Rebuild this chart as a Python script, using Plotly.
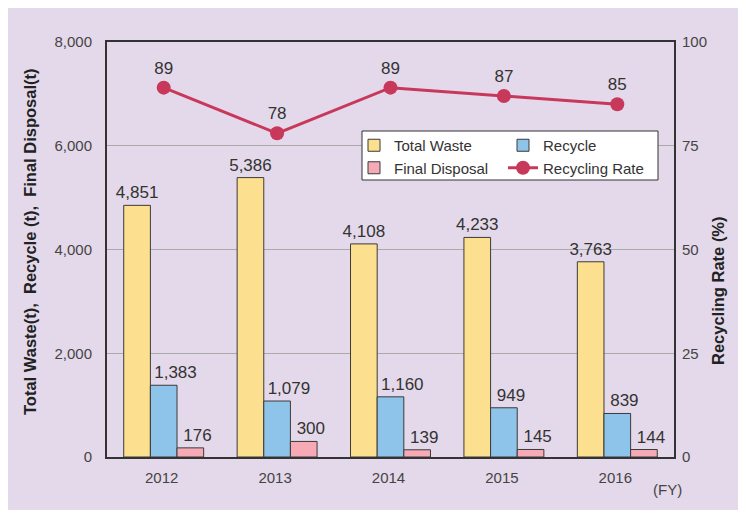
import plotly.graph_objects as go

years = ["2012", "2013", "2014", "2015", "2016"]
total_waste = [4851, 5386, 4108, 4233, 3763]
recycle = [1383, 1079, 1160, 949, 839]
final_disposal = [176, 300, 139, 145, 144]
recycling_rate = [89, 78, 89, 87, 85]

FONT = "Liberation Sans, Arial, sans-serif"
TXT = "#333333"
NB = "\u00a0"

fig = go.Figure()

def labels(vals, left_align):
    out = []
    for v in vals:
        s = f"{v:,}"
        # nudge label so it starts near the bar's left edge (as in the reference)
        out.append(NB * len(s) + s if left_align else s)
    return out

def bar(name, vals, color, legend, left_align):
    return go.Bar(
        x=years, y=vals, name=name, legend=legend,
        marker=dict(color=color, line=dict(color="#3a3a3a", width=1)),
        text=labels(vals, left_align), textposition="outside",
        textfont=dict(size=17, color=TXT, family=FONT),
        constraintext="none", cliponaxis=False,
    )

fig.add_trace(bar("Total Waste", total_waste, "#fde08f", "legend", False))
fig.add_trace(bar("Recycle", recycle, "#8fc4ea", "legend2", True))
fig.add_trace(bar("Final Disposal", final_disposal, "#f5aab5", "legend", True))
fig.add_trace(go.Scatter(
    x=years, y=recycling_rate, name="Recycling Rate", yaxis="y2", legend="legend2",
    mode="lines+markers+text",
    line=dict(color="#c8385a", width=3),
    marker=dict(color="#c8385a", size=14),
    text=[str(v) for v in recycling_rate], textposition="top center",
    textfont=dict(size=17, color=TXT, family=FONT),
    cliponaxis=False,
))

# page body has an 8px margin; work in screen pixels
OFF = 8
W, H = 746 - OFF, 516 - OFF
left, top, right, bottom = 107, 42, 674, 457  # plot frame in screen px
L, T = left - OFF, top - OFF
R, B = W - (right - OFF), H - (bottom - OFF)
pw, ph = right - left, bottom - top

def px(x):
    return (x - left) / pw

def py(y):
    return (bottom - y) / ph

fig.update_layout(
    width=W, height=H,
    margin=dict(l=L, r=R, t=T, b=B, pad=0),
    paper_bgcolor="white", plot_bgcolor="white",
    font=dict(family=FONT, color=TXT),
    barmode="group", bargap=0.295, bargroupgap=0,
    xaxis=dict(
        type="category", showline=True, linecolor="#333", linewidth=2, mirror=True,
        ticks="", tickfont=dict(size=15, color="#444"), ticklabelstandoff=6,
        ticklabelshift=-2,
    ),
    yaxis=dict(
        range=[0, 8000], dtick=2000, tickformat=",", showgrid=True,
        gridcolor="#aaaaaa", gridwidth=1, showline=True, linecolor="#333", linewidth=2,
        zeroline=False, ticks="", tickfont=dict(size=15, color="#444"), ticklabelstandoff=10,
    ),
    yaxis2=dict(
        range=[0, 100], dtick=25, overlaying="y", side="right", showgrid=False,
        showline=True, linecolor="#333", linewidth=2, zeroline=False, ticks="",
        tickfont=dict(size=15, color="#444"), ticklabelstandoff=3,
    ),
    legend=dict(
        x=px(354), y=py(129), xanchor="left", yanchor="top", bgcolor="rgba(0,0,0,0)",
        font=dict(size=15, color=TXT), traceorder="normal", borderwidth=0,
    ),
    legend2=dict(
        x=px(503), y=py(129), xanchor="left", yanchor="top", bgcolor="rgba(0,0,0,0)",
        font=dict(size=15, color=TXT), traceorder="normal", borderwidth=0,
    ),
    shapes=[
        dict(type="rect", xref="paper", yref="paper", x0=px(7), x1=px(740), y0=py(510), y1=py(7),
             fillcolor="#e4d9ea", line=dict(width=0), layer="below"),
        dict(type="rect", xref="paper", yref="paper", x0=px(362), x1=px(658), y0=py(180), y1=py(131),
             fillcolor="white", line=dict(color="#333", width=1), layer="above"),
    ],
    annotations=[
        dict(text="<b>Total Waste(t),\u00a0\u00a0Recycle (t),\u00a0\u00a0Final Disposal(t)</b>", textangle=-90,
             xref="paper", yref="paper", x=px(30), y=py(242), xanchor="center", yanchor="middle",
             showarrow=False, font=dict(size=16.5, color="#222")),
        dict(text="<b>Recycling Rate (%)</b>", textangle=-90,
             xref="paper", yref="paper", x=px(718), y=py(291), xanchor="center", yanchor="middle",
             showarrow=False, font=dict(size=16.5, color="#222")),
        dict(text="(FY)", xref="paper", yref="paper", x=px(667), y=py(489),
             xanchor="center", yanchor="middle", showarrow=False,
             font=dict(size=15, color="#444")),
    ],
)

fig.write_html("out.html")
